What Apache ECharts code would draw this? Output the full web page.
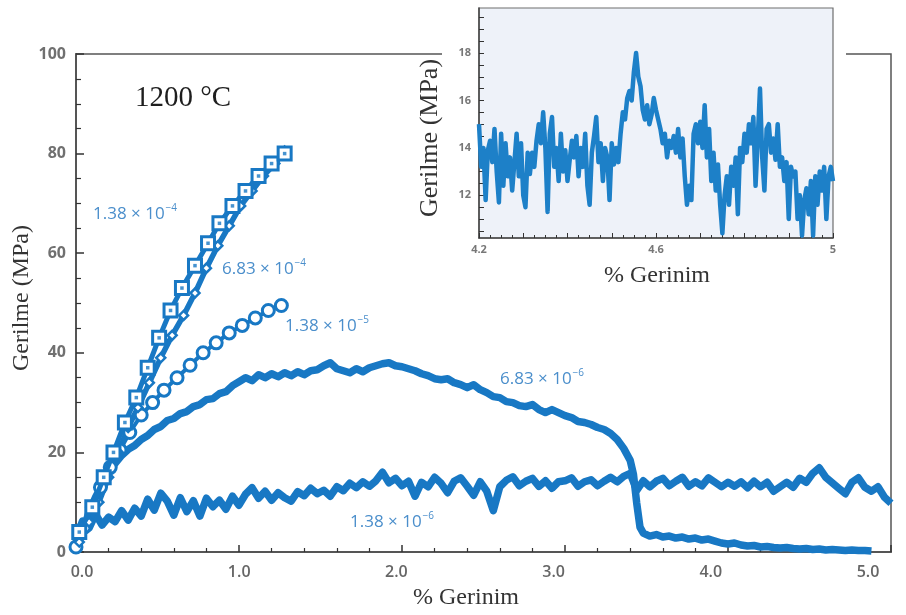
<!DOCTYPE html>
<html>
<head>
<meta charset="utf-8">
<script src="https://cdn.jsdelivr.net/npm/echarts@6/dist/echarts.min.js"></script>
<style>
  html, body { margin: 0; padding: 0; background: #ffffff; }
  #chart { width: 906px; height: 615px; }
</style>
</head>
<body>
<div id="chart"></div>
<script>
// ---- Data: stress (MPa) vs strain (%) at 1200 °C for several strain rates ----

// 1.38 × 10^-4 s^-1 (square markers)
const strain138e4 = [0.02, 0.10, 0.17, 0.23, 0.30, 0.37, 0.44, 0.51, 0.58, 0.65, 0.73, 0.81, 0.88, 0.96, 1.04, 1.12, 1.20, 1.28];
const stress138e4 = [4, 9, 15, 20, 26, 31, 37, 43, 48.5, 53, 57.5, 62, 66, 69.5, 72.5, 75.5, 78, 80];

// 6.83 × 10^-4 s^-1 (diamond markers)
const strain683e4 = [0.02, 0.08, 0.14, 0.20, 0.26, 0.32, 0.38, 0.45, 0.52, 0.59, 0.66, 0.73, 0.80, 0.87, 0.94, 1.01, 1.08, 1.15, 1.22, 1.28];
const stress683e4 = [2, 6, 10, 15, 20, 25, 29, 34, 39, 43.5, 47.5, 52, 57, 61.5, 65.5, 69.5, 72.5, 75.5, 78, 80.5];

// 1.38 × 10^-5 s^-1 (circle markers)
const strain138e5 = [0.00, 0.05, 0.10, 0.15, 0.21, 0.27, 0.33, 0.40, 0.47, 0.54, 0.62, 0.70, 0.78, 0.86, 0.94, 1.02, 1.10, 1.18, 1.26];
const stress138e5 = [1, 5, 9, 13, 17, 20.5, 24, 27.5, 30, 32.5, 35, 37.5, 40, 42, 44, 45.5, 47, 48.5, 49.5];

// 6.83 × 10^-6 s^-1 (continuous record, fracture near 3.44 %)
const strain683e6 = [
  0.00, 0.04, 0.08, 0.12, 0.16, 0.20, 0.24, 0.28, 0.32, 0.36, 0.40, 0.44, 0.48, 0.52, 0.56, 0.60, 0.64, 0.68, 0.72, 0.76,
  0.80, 0.84, 0.88, 0.92, 0.96, 1.00, 1.04, 1.08, 1.12, 1.16, 1.20, 1.24, 1.28, 1.32, 1.36, 1.40, 1.44, 1.48, 1.52, 1.56,
  1.60, 1.64, 1.68, 1.72, 1.76, 1.80, 1.84, 1.88, 1.92, 1.96, 2.00, 2.04, 2.08, 2.12, 2.16, 2.20, 2.24, 2.28, 2.32, 2.36,
  2.40, 2.44, 2.48, 2.52, 2.56, 2.60, 2.64, 2.68, 2.72, 2.76, 2.80, 2.84, 2.88, 2.92, 2.96, 3.00, 3.04, 3.08, 3.12, 3.16,
  3.20, 3.24, 3.28, 3.32, 3.36, 3.40, 3.42, 3.44, 3.46, 3.48, 3.52, 3.56, 3.60, 3.64, 3.68, 3.72, 3.76, 3.80, 3.84, 3.88,
  3.92, 3.96, 4.00, 4.04, 4.08, 4.12, 4.16, 4.20, 4.24, 4.28, 4.32, 4.36, 4.40, 4.44, 4.48, 4.52, 4.56, 4.60, 4.64, 4.68,
  4.72, 4.76, 4.80, 4.84, 4.88
];
const stress683e6 = [
  0.5, 4, 8, 11, 13.5, 16, 17.8, 19.4, 20.6, 21.4, 22.6, 23.4, 24.6, 25.2, 26.4, 26.8, 27.8, 28.2, 29.2, 29.6,
  30.6, 30.8, 31.8, 32.2, 33.4, 34.2, 35.0, 34.4, 35.6, 35.0, 35.8, 35.2, 36.0, 35.4, 36.2, 35.6, 36.4, 36.6, 37.4, 38.0,
  36.8, 36.4, 36.0, 36.8, 36.2, 37.0, 37.4, 37.8, 38.0, 37.4, 37.2, 36.8, 36.4, 35.8, 35.4, 34.8, 34.6, 34.8, 34.0, 33.6,
  33.0, 33.6, 32.6, 32.0, 31.2, 31.0, 30.2, 30.0, 29.4, 29.2, 29.6, 28.6, 28.0, 28.6, 28.0, 27.4, 27.0, 26.2, 26.0, 25.6,
  25.0, 24.6, 23.8, 22.6, 20.8, 18.4, 15.6, 9.8, 5.0, 3.8, 3.2, 3.5, 3.0, 3.2, 2.8, 3.0, 2.6, 2.8, 2.4, 2.6,
  2.2, 1.8, 1.6, 1.8, 1.4, 1.2, 1.3, 1.0, 1.1, 0.9, 0.8, 0.9, 0.7, 0.6, 0.7, 0.5, 0.6, 0.4, 0.5, 0.4,
  0.3, 0.4, 0.3, 0.3, 0.2
];

// 1.38 × 10^-6 s^-1 (continuous record, sampled every 0.04 % strain from 0)
const strainStep138e6 = 0.04;
const stress138e6 = [
  2.5, 6.2, 4.8, 7.6, 5.4, 7.0, 6.1, 8.3, 6.4, 8.8, 7.2, 10.6, 8.4, 11.8, 10.2, 7.4, 10.9, 8.1, 10.3, 7.2, 10.8, 9.1, 10.4, 8.6, 11.2,
  9.4, 11.6, 12.9, 10.8, 12.2, 10.4, 11.9, 10.9, 10.2, 12.1, 11.3, 12.8, 11.7, 12.4, 11.2, 13.1, 12.3, 13.8, 12.9, 14.1, 13.2, 14.3, 16.0, 13.9, 14.8,
  13.3, 14.2, 11.2, 14.0, 13.1, 15.0, 13.8, 11.9, 14.2, 14.9, 13.2, 11.4, 14.1, 12.2, 8.3, 13.1, 14.4, 15.1, 13.3, 14.2, 14.8, 13.2, 14.3, 12.8, 14.1,
  14.3, 14.9, 13.2, 14.1, 14.5, 13.3, 14.2, 15.0, 14.1, 15.2, 15.8, 12.4, 14.3, 13.1, 14.2, 14.8, 13.3, 14.2, 15.0, 13.2, 14.1, 13.3, 14.9, 14.0, 13.1,
  14.0, 13.2, 14.1, 12.9, 14.2, 13.1, 14.0, 12.2, 13.1, 14.0, 13.0, 14.8, 14.0, 15.8, 16.9, 15.0, 13.9, 12.8, 11.7, 14.0, 14.9, 13.0, 12.2, 13.1, 11.0,
  9.8
];

// Inset: detail of the 1.38 × 10^-6 record between 4.2 and 5 % strain, every 0.005 %
const insetStart = 4.2;
const insetStep = 0.005;
const insetStress = [
  15.0, 13.2, 14.0, 11.8, 13.9, 14.3, 13.4, 14.8, 13.0, 11.7,
  14.6, 12.4, 14.2, 12.8, 13.6, 12.2, 13.4, 14.6, 12.8, 14.2,
  12.0, 11.5, 13.8, 12.9, 13.8, 13.2, 14.3, 15.0, 14.2, 15.5,
  14.0, 11.3, 14.6, 15.3, 13.2, 14.0, 12.6, 14.6, 13.0, 13.9,
  12.6, 13.5, 14.3, 13.6, 14.5, 12.8, 14.0, 13.2, 14.6, 12.4,
  11.6, 13.8, 14.5, 15.3, 13.4, 14.2, 12.6, 14.0, 13.6, 11.8,
  14.2, 13.3, 14.0, 13.4, 14.6, 15.5, 15.2, 16.1, 16.4, 16.0,
  17.2, 18.0, 17.0, 16.6, 15.6, 15.2, 15.8, 15.0, 15.4, 16.1,
  15.6, 15.2, 14.8, 14.2, 14.6, 13.6, 14.3, 14.0, 14.5, 13.8,
  14.8, 13.6, 14.4, 12.8, 11.6, 12.4, 11.8, 14.6, 15.0, 14.2,
  15.1, 14.0, 15.8, 13.6, 14.8, 12.6, 13.8, 12.2, 13.3, 11.6,
  10.4, 12.0, 12.8, 11.6, 13.2, 12.4, 13.6, 11.2, 14.0, 13.4,
  14.6, 13.8, 15.0, 14.2, 15.3, 12.4, 14.4, 16.5, 13.6, 12.2,
  14.8, 15.0, 13.8, 14.4, 13.5, 15.0, 13.2, 13.6, 12.6, 13.4,
  11.0, 13.2, 12.8, 13.0, 11.0, 12.0, 10.3, 11.8, 12.3, 11.2,
  12.6, 10.3, 12.8, 11.6, 13.0, 12.2, 13.2, 11.0, 12.8, 13.2,
  12.6
];

// Axis tick labels
const mainXLabels = ['0.0', '1.0', '2.0', '3.0', '4.0', '5.0'];
const insetXLabelValues = [4.2, 4.6, 5];
const insetXLabelText = ['4.2', '4.6', '5'];
const insetYLabelValues = [12, 14, 16, 18];
const insetYTickValues = [10.5, 11, 11.5, 12, 12.5, 13, 13.5, 14, 14.5, 15, 15.5, 16, 16.5, 17, 17.5, 18, 18.5, 19, 19.5];

// Curve annotations: strain-rate mantissa and exponent
const rateLabels = [
  { mant: '1.38', exp: '4', x: 93, y: 213 },
  { mant: '6.83', exp: '4', x: 222, y: 268 },
  { mant: '1.38', exp: '5', x: 285, y: 325 },
  { mant: '6.83', exp: '6', x: 500, y: 378 },
  { mant: '1.38', exp: '6', x: 350, y: 521 }
];

// ---- Styling ----
const BLUE = '#1878c4';
const LABEL_BLUE = '#4a8ecb';
const AXIS = '#555555';
const SERIF = "'Liberation Serif', 'DejaVu Serif', serif";
const SANS = "'Open Sans', 'Liberation Sans', sans-serif";

function pairs(xs, ys) { return xs.map((x, i) => [x, ys[i]]); }
function sampled(start, step, ys) { return ys.map((y, i) => [+(start + i * step).toFixed(3), y]); }

const chart = echarts.init(document.getElementById('chart'), null, { renderer: 'canvas' });

const option = {
  backgroundColor: '#ffffff',
  animation: false,
  grid: [
    { left: 76, top: 54, width: 815, height: 498, show: true, borderColor: AXIS, borderWidth: 1.5, backgroundColor: 'transparent' },
    { left: 82, top: 54, width: 786, height: 498, show: false },
    { left: 479, top: 8, width: 354, height: 230, show: true, z: 10, borderColor: '#6e6e6e', borderWidth: 1.2, backgroundColor: '#eef2f9' }
  ],
  xAxis: [
    {
      type: 'value', gridIndex: 0, min: 0, max: 5, interval: 1,
      axisLine: { show: true, lineStyle: { color: AXIS, width: 2 } },
      axisTick: { show: true, inside: true, length: 7, lineStyle: { color: '#333', width: 1.5 } },
      minorTick: { show: true, splitNumber: 5, length: 4, lineStyle: { color: '#333', width: 1.2 } },
      axisLabel: { show: false },
      splitLine: { show: false }
    },
    {
      type: 'value', gridIndex: 1, min: 0, max: 5, interval: 1,
      axisLine: { show: false }, axisTick: { show: false }, splitLine: { show: false },
      axisLabel: {
        show: true, margin: 12, color: '#666', fontFamily: SANS, fontSize: 16, fontWeight: 600,
        formatter: (v) => mainXLabels[Math.round(v)]
      }
    },
    {
      type: 'value', gridIndex: 2, min: 4.2, max: 5, interval: 0.1, z: 11,
      axisLine: { show: true, lineStyle: { color: '#444', width: 1.5 } },
      axisTick: { show: true, inside: true, length: 5, lineStyle: { color: '#333', width: 1 } },
      minorTick: { show: true, splitNumber: 4, length: 3, lineStyle: { color: '#333', width: 1 } },
      splitLine: { show: false },
      axisLabel: {
        show: true, margin: 6, color: '#777', fontFamily: SANS, fontSize: 11, fontWeight: 'bold',
        customValues: insetXLabelValues,
        formatter: (v) => insetXLabelText[insetXLabelValues.findIndex(t => Math.abs(t - v) < 1e-6)]
      }
    }
  ],
  yAxis: [
    {
      type: 'value', gridIndex: 0, min: 0, max: 100, interval: 20,
      axisLine: { show: true, lineStyle: { color: AXIS, width: 2 } },
      axisTick: { show: true, inside: true, length: 8, lineStyle: { color: '#333', width: 1.5 } },
      minorTick: { show: true, splitNumber: 4, length: 5, lineStyle: { color: '#333', width: 1.2 } },
      splitLine: { show: false },
      axisLabel: { show: true, margin: 10, color: '#707070', fontFamily: SANS, fontSize: 16, fontWeight: 'bold' }
    },
    { type: 'value', gridIndex: 1, min: 0, max: 100, show: false },
    {
      type: 'value', gridIndex: 2, min: 10.2, max: 19.9, z: 11,
      axisLine: { show: true, lineStyle: { color: '#444', width: 1.5 } },
      axisTick: { show: true, inside: true, length: 5, customValues: insetYTickValues, lineStyle: { color: '#333', width: 1 } },
      splitLine: { show: false },
      axisLabel: {
        show: true, margin: 8, color: '#777', fontFamily: SANS, fontSize: 11, fontWeight: 'bold',
        customValues: insetYLabelValues
      }
    }
  ],
  series: [
    {
      name: '1.38e-6', type: 'line', xAxisIndex: 0, yAxisIndex: 0, z: 2,
      data: sampled(0, strainStep138e6, stress138e6),
      showSymbol: false, lineStyle: { color: BLUE, width: 7.5, join: 'round' }
    },
    {
      name: '6.83e-6', type: 'line', xAxisIndex: 0, yAxisIndex: 0, z: 2,
      data: pairs(strain683e6, stress683e6),
      showSymbol: false, lineStyle: { color: BLUE, width: 7.5, join: 'round' }
    },
    {
      name: '1.38e-5', type: 'line', xAxisIndex: 0, yAxisIndex: 0, z: 3,
      data: pairs(strain138e5, stress138e5),
      symbol: 'circle', symbolSize: 12, showAllSymbol: true,
      lineStyle: { color: BLUE, width: 4 },
      itemStyle: { color: '#ffffff', borderColor: BLUE, borderWidth: 3 }
    },
    {
      name: '6.83e-4', type: 'line', xAxisIndex: 0, yAxisIndex: 0, z: 3,
      data: pairs(strain683e4, stress683e4),
      symbol: 'diamond', symbolSize: 9, showAllSymbol: true,
      lineStyle: { color: BLUE, width: 5.5 },
      itemStyle: { color: '#ffffff', borderColor: BLUE, borderWidth: 2.5 }
    },
    {
      name: '1.38e-4', type: 'line', xAxisIndex: 0, yAxisIndex: 0, z: 4,
      data: pairs(strain138e4, stress138e4),
      symbol: 'rect', symbolSize: 13, showAllSymbol: true,
      lineStyle: { color: BLUE, width: 5 },
      itemStyle: { color: '#ffffff', borderColor: BLUE, borderWidth: 3 }
    },
    {
      name: '1.38e-4 centres', type: 'scatter', xAxisIndex: 0, yAxisIndex: 0, z: 5,
      data: pairs(strain138e4, stress138e4),
      symbol: 'rect', symbolSize: 3.5, itemStyle: { color: BLUE }
    },
    {
      name: 'inset', type: 'line', xAxisIndex: 2, yAxisIndex: 2, z: 12,
      data: sampled(insetStart, insetStep, insetStress),
      showSymbol: false, clip: true, lineStyle: { color: '#1d80c8', width: 4.5, join: 'round' }
    }
  ],
  graphic: [
    // blank backing behind the inset so the main frame's top edge is hidden there
    { type: 'rect', z: 5, silent: true, shape: { x: 442, y: 0, width: 404, height: 245 }, style: { fill: '#ffffff' } },
    { type: 'text', z: 20, x: 135, y: 98, style: { text: '1200 °C', font: `29px ${SERIF}`, fill: '#1e1e1e', textVerticalAlign: 'middle' } },
    { type: 'text', z: 20, x: 22, y: 298, rotation: Math.PI / 2,
      style: { text: 'Gerilme (MPa)', font: `24px ${SERIF}`, fill: '#333', textAlign: 'center', textVerticalAlign: 'middle' } },
    { type: 'text', z: 20, x: 466, y: 598,
      style: { text: '% Gerinim', font: `24px ${SERIF}`, fill: '#333', textAlign: 'center', textVerticalAlign: 'middle' } },
    { type: 'text', z: 20, x: 430, y: 138, rotation: Math.PI / 2,
      style: { text: 'Gerilme (MPa)', font: `26px ${SERIF}`, fill: '#333', textAlign: 'center', textVerticalAlign: 'middle' } },
    { type: 'text', z: 20, x: 657, y: 276,
      style: { text: '% Gerinim', font: `24px ${SERIF}`, fill: '#333', textAlign: 'center', textVerticalAlign: 'middle' } }
  ].concat(rateLabels.map(r => ({
    type: 'text', z: 20, x: r.x, y: r.y,
    style: {
      text: `{m|${r.mant} × 10}{e|−${r.exp}}`,
      textVerticalAlign: 'middle',
      rich: {
        m: { fontSize: 17, fontFamily: SANS, fill: LABEL_BLUE, lineHeight: 20, verticalAlign: 'bottom' },
        e: { fontSize: 10, fontFamily: SANS, fill: LABEL_BLUE, lineHeight: 20, verticalAlign: 'top', padding: [0, 0, 0, 1] }
      }
    }
  })))
};

chart.setOption(option);
</script>
</body>
</html>
